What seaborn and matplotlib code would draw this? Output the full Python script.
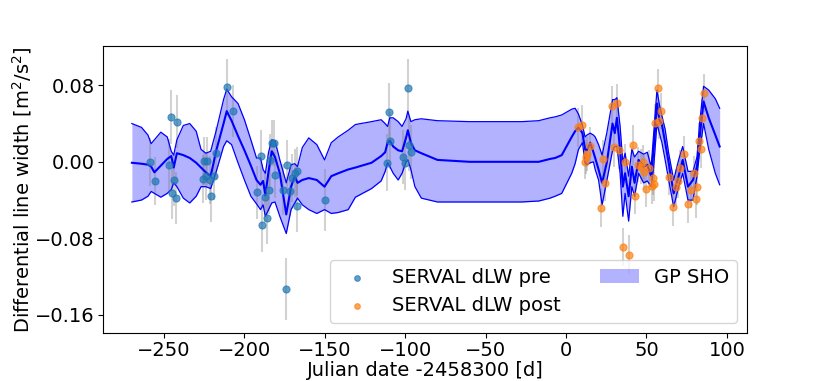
import numpy as np
import pandas as pd
import matplotlib
matplotlib.use("Agg")
import matplotlib.pyplot as plt
import seaborn as sns

# SERVAL dLW, before the gap
pre_t = [-258.6, -255.7, -247.0, -245.7, -244.8, -243.8, -242.8, -242.0,
         -225.8, -225.4, -223.7, -223.3, -221.6, -220.6, -219.2, -217.9,
         -210.8, -207.1, -192.2, -189.9, -189.0, -187.0, -185.9, -184.9,
         -184.1, -182.8, -181.8, -181.2, -176.2, -174.1, -173.3, -171.9,
         -170.4, -168.7, -167.3, -167.1, -150.2, -111.2, -110.2, -109.6,
         -101.5, -100.2, -98.4, -97.8, -96.5]
pre_dlw = [0.000, -0.020, -0.003, 0.047, -0.033, -0.019, -0.038, 0.042,
           -0.018, 0.001, -0.015, 0.001, -0.019, -0.036, -0.015, 0.009,
           0.078, 0.053, -0.032, 0.006, -0.066, -0.037, -0.059, -0.029,
           0.002, 0.020, 0.020, -0.014, -0.029, -0.133, -0.003, -0.031,
           -0.017, -0.012, -0.046, -0.010, -0.040, -0.001, 0.052, 0.022,
           0.005, -0.001, 0.077, 0.018, 0.010]
pre_err = [0.025, 0.025, 0.027, 0.028, 0.027, 0.027, 0.027, 0.028,
           0.025, 0.025, 0.025, 0.025, 0.025, 0.027, 0.025, 0.027,
           0.030, 0.027, 0.028, 0.027, 0.028, 0.026, 0.027, 0.026,
           0.027, 0.024, 0.024, 0.024, 0.027, 0.032, 0.026, 0.026,
           0.025, 0.025, 0.027, 0.025, 0.032, 0.030, 0.030, 0.030,
           0.028, 0.028, 0.031, 0.028, 0.028]

# SERVAL dLW, after the gap
post_t = [7.7, 10.2, 11.8, 12.5, 13.3, 15.0, 21.8, 22.9, 23.9, 28.5,
          29.9, 31.8, 33.2, 35.7, 36.7, 38.9, 41.5, 42.8, 44.6, 46.7,
          48.0, 48.4, 49.8, 51.7, 53.4, 53.8, 54.8, 55.4, 56.9, 57.9,
          59.0, 64.0, 66.4, 68.1, 69.8, 70.6, 73.3, 75.6, 77.8, 79.7,
          81.0, 81.4, 82.6, 83.7, 84.7, 85.6]
post_dlw = [0.036, 0.039, 0.000, 0.005, 0.008, 0.017, -0.048, 0.003, -0.022, 0.058,
            0.015, 0.061, 0.012, -0.089, 0.000, -0.097, 0.018, -0.036, -0.003, -0.005,
            0.000, -0.011, -0.028, -0.006, -0.025, -0.017, -0.023, 0.041, 0.077, 0.043,
            0.053, -0.016, -0.047, -0.026, -0.020, -0.006, 0.008, -0.044, -0.029, -0.012,
            -0.039, -0.026, 0.022, 0.013, 0.046, 0.072]
post_err = [0.020, 0.020, 0.018, 0.018, 0.018, 0.019, 0.020, 0.020, 0.019, 0.021,
            0.020, 0.020, 0.019, 0.020, 0.019, 0.020, 0.021, 0.019, 0.018, 0.018,
            0.018, 0.018, 0.019, 0.018, 0.019, 0.018, 0.018, 0.019, 0.020, 0.019,
            0.019, 0.019, 0.020, 0.019, 0.018, 0.018, 0.019, 0.020, 0.019, 0.018,
            0.020, 0.019, 0.019, 0.019, 0.020, 0.020]

# GP SHO prediction: time, mean, lower and upper edge of the band
gp_t = [-270, -264, -260, -258, -256, -252, -248, -245.5, -244, -242,
        -238, -234, -230, -227, -224, -221, -217.5, -213, -211, -208,
        -204, -200, -196, -192.5, -190, -188.4, -187, -185, -183, -181,
        -178, -174, -171, -168.7, -167, -164, -160, -155, -150.2, -146,
        -141.7, -135.5, -131, -121, -115, -112.5, -111, -109.6, -107.5, -104.4,
        -102, -99.5, -98.4, -96.5, -94, -90, -80, -60, -27.6, -17,
        -10, -6.8, -2.7, 3.5, 5.6, 7.7, 10.2, 11.8, 13, 15,
        17, 18.1, 20.2, 22.4, 25.3, 28.9, 30.3, 31.6, 33.6, 35.3,
        36.7, 38.9, 40.9, 42.6, 45.1, 48.2, 50.5, 52.9, 54.5, 56.5,
        58, 59.6, 61.6, 63.8, 66.9, 70, 72.5, 75.8, 78.9, 81.4,
        83, 85.5, 88.7, 92.8, 95.5]
gp_mean = [-0.001, -0.002, -0.003, -0.005, -0.011, -0.004, 0.003, 0.006, -0.006, 0.009,
           0.007, 0.004, -0.001, -0.006, -0.011, -0.015, 0.012, 0.040, 0.053, 0.043,
           0.027, 0.012, -0.004, -0.019, -0.024, -0.020, -0.035, -0.010, 0.011, 0.005,
           -0.012, -0.055, -0.026, -0.015, -0.022, -0.019, -0.017, -0.019, -0.026, -0.015,
           -0.012, -0.008, -0.006, -0.001, 0.006, 0.010, 0.020, 0.022, 0.016, 0.012,
           0.011, 0.025, 0.033, 0.020, 0.012, 0.009, 0.002, 0.000, 0.000, 0.000,
           0.003, 0.004, 0.007, 0.026, 0.032, 0.036, 0.030, 0.013, 0.012, 0.020,
           0.010, 0.004, -0.008, -0.022, -0.001, 0.040, 0.030, 0.046, 0.013, -0.026,
           -0.012, -0.036, -0.005, -0.022, 0.002, -0.005, -0.003, -0.015, 0.015, 0.061,
           0.044, 0.039, 0.020, -0.001, -0.033, -0.015, 0.002, -0.026, -0.019, -0.005,
           0.025, 0.063, 0.046, 0.028, 0.016]
gp_lo = [-0.042, -0.040, -0.036, -0.031, -0.033, -0.037, -0.033, -0.029, -0.022, -0.026,
         -0.038, -0.043, -0.036, -0.026, -0.026, -0.028, -0.010, 0.016, 0.022, 0.018,
         -0.001, -0.019, -0.036, -0.044, -0.050, -0.045, -0.057, -0.050, -0.043, -0.042,
         -0.057, -0.075, -0.050, -0.043, -0.038, -0.045, -0.050, -0.054, -0.050, -0.054,
         -0.053, -0.050, -0.037, -0.028, -0.020, -0.010, -0.001, -0.005, -0.012, -0.019,
         -0.012, 0.000, 0.002, -0.008, -0.026, -0.038, -0.042, -0.042, -0.042, -0.041,
         -0.038, -0.036, -0.033, -0.012, -0.002, 0.013, 0.020, -0.001, -0.003, -0.001,
         0.000, -0.008, -0.019, -0.045, -0.020, 0.012, 0.016, 0.016, -0.012, -0.057,
         -0.033, -0.062, -0.026, -0.036, -0.012, -0.022, -0.020, -0.026, -0.005, 0.040,
         0.030, 0.020, 0.002, -0.019, -0.047, -0.026, -0.012, -0.040, -0.040, -0.015,
         0.010, 0.040, 0.013, -0.012, -0.024]
gp_hi = [0.040, 0.036, 0.028, 0.019, 0.023, 0.031, 0.026, 0.011, 0.007, 0.023,
         0.038, 0.040, 0.032, 0.013, 0.009, 0.011, 0.033, 0.065, 0.076, 0.068,
         0.061, 0.044, 0.023, 0.004, 0.004, -0.008, -0.012, 0.010, 0.023, 0.022,
         0.002, -0.022, -0.003, -0.002, -0.005, 0.015, 0.025, 0.018, 0.002, 0.020,
         0.026, 0.033, 0.039, 0.042, 0.044, 0.040, 0.037, 0.046, 0.046, 0.042,
         0.037, 0.045, 0.053, 0.042, 0.044, 0.045, 0.043, 0.042, 0.042, 0.043,
         0.046, 0.047, 0.049, 0.055, 0.056, 0.050, 0.038, 0.026, 0.028, 0.030,
         0.028, 0.026, 0.018, 0.007, 0.030, 0.065, 0.065, 0.067, 0.037, -0.001,
         0.009, -0.015, 0.013, 0.005, 0.011, 0.008, 0.010, -0.005, 0.030, 0.075,
         0.060, 0.048, 0.034, 0.009, -0.019, 0.002, 0.016, -0.010, -0.010, 0.005,
         0.040, 0.079, 0.075, 0.066, 0.056]

pre = pd.DataFrame({"t": pre_t, "dlw": pre_dlw, "err": pre_err})
post = pd.DataFrame({"t": post_t, "dlw": post_dlw, "err": post_err})
gp = pd.DataFrame({"t": gp_t, "mean": gp_mean, "lo": gp_lo, "hi": gp_hi})

plt.rcParams["font.size"] = 14
plt.rcParams["xtick.major.pad"] = 2.5
plt.rcParams["ytick.major.pad"] = 2.5
fig = plt.figure(figsize=(8.3, 3.81), dpi=100)
ax = fig.add_axes([0.124, 0.126, 0.776, 0.753])

# GP band (face only), its edges and the mean
ax.fill_between(gp["t"], gp["lo"], gp["hi"], color="blue", alpha=0.3,
                linewidth=0, label="GP SHO", zorder=1)
for col, lw in [("lo", 0.9), ("hi", 0.9), ("mean", 1.5)]:
    sns.lineplot(data=gp, x="t", y=col, color="blue", linewidth=lw,
                 sort=False, estimator=None, ax=ax, zorder=2)

# error bars
ax.errorbar(pre["t"], pre["dlw"], yerr=pre["err"], fmt="none",
            ecolor="grey", alpha=0.35, elinewidth=1.5, zorder=1.5)
ax.errorbar(post["t"], post["dlw"], yerr=post["err"], fmt="none",
            ecolor="grey", alpha=0.35, elinewidth=1.5, zorder=1.5)

# data points
sns.scatterplot(data=pre, x="t", y="dlw", color="tab:blue", alpha=0.7, s=26,
                edgecolor="face", linewidth=0.8, ax=ax, zorder=3,
                label="SERVAL dLW pre")
sns.scatterplot(data=post, x="t", y="dlw", color="tab:orange", alpha=0.7, s=26,
                edgecolor="face", linewidth=0.8, ax=ax, zorder=3,
                label="SERVAL dLW post")

ax.set_ylim(-0.179, 0.121)
ax.set_xlim(-288, 112.5)
ax.set_yticks([-0.16, -0.08, 0.0, 0.08])
ax.set_yticklabels(["\u22120.16", "\u22120.08", "0.00", "0.08"])
ax.set_xlabel("Julian date -2458300 [d]", labelpad=0.5)
ax.set_ylabel("Differential line width [m$^2$/s$^2$]", labelpad=1)

handles, labels = ax.get_legend_handles_labels()
order = [labels.index("SERVAL dLW pre"), labels.index("SERVAL dLW post"),
         labels.index("GP SHO")]
ax.legend([handles[i] for i in order], [labels[i] for i in order],
          ncol=2, loc="lower right", markerscale=0.8)

fig.savefig("out.png", dpi=100)
